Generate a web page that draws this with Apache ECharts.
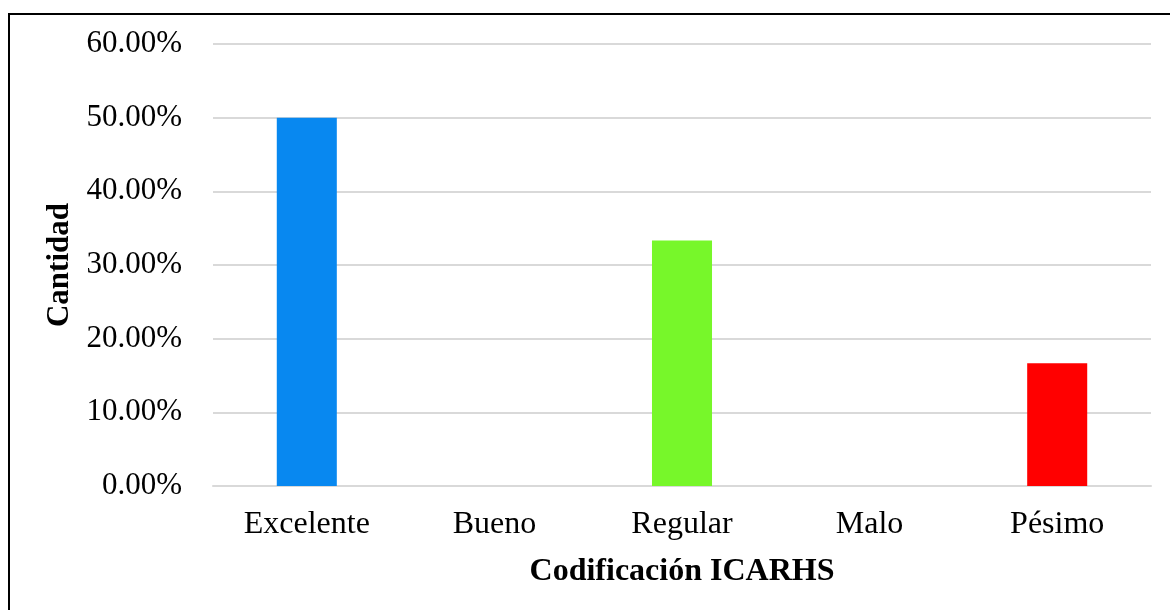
<!DOCTYPE html>
<html>
<head>
<meta charset="utf-8">
<script src="https://cdn.jsdelivr.net/npm/echarts@6/dist/echarts.min.js"></script>
<style>
  html, body { margin: 0; padding: 0; background: #fff; }
  #chart { width: 1170px; height: 610px; }
</style>
</head>
<body>
<div id="chart"></div>
<script>
// Categories and shares (%) per ICARHS code
const categories = ['Excelente', 'Bueno', 'Regular', 'Malo', 'Pésimo'];
const shares = [50.00, 0, 33.33, 0, 16.67];
const barColors = ['#0888F0', '#0888F0', '#77F72A', '#77F72A', '#FF0000'];

const yAxisName = 'Cantidad';
const xAxisName = 'Codificación ICARHS';

const serif = '"Liberation Serif", "Times New Roman", serif';

const chart = echarts.init(document.getElementById('chart'), null, { renderer: 'canvas' });

chart.setOption({
  animation: false,
  backgroundColor: '#ffffff',
  graphic: [{
    type: 'rect',
    shape: { x: 9, y: 14, width: 1200, height: 700 },
    style: { fill: 'none', stroke: '#000', lineWidth: 2 },
    silent: true
  }],
  grid: { left: 213, right: 19, top: 44, bottom: 124 },
  xAxis: {
    type: 'category',
    data: categories,
    name: xAxisName,
    nameLocation: 'middle',
    nameGap: 70,
    nameTextStyle: { fontFamily: serif, fontSize: 32, fontWeight: 'bold', color: '#000' },
    axisLine: { show: true, lineStyle: { color: '#D9D9D9', width: 2 } },
    axisTick: { show: false },
    axisLabel: { fontFamily: serif, fontSize: 32, color: '#000', margin: 23 }
  },
  yAxis: {
    type: 'value',
    min: 0,
    max: 60,
    interval: 10,
    name: yAxisName,
    nameLocation: 'middle',
    nameGap: 135,
    nameRotate: 90,
    nameTextStyle: { fontFamily: serif, fontSize: 31, fontWeight: 'bold', color: '#000' },
    axisLine: { show: false },
    axisTick: { show: false },
    axisLabel: {
      fontFamily: serif, fontSize: 31, color: '#000', margin: 31,
      padding: [4, 0, 0, 0],
      formatter: v => v.toFixed(2) + '%'
    },
    splitLine: { lineStyle: { color: '#D9D9D9', width: 2 } }
  },
  series: [{
    type: 'bar',
    data: shares.map((v, i) => ({ value: v, itemStyle: { color: barColors[i] } })),
    barWidth: '32%'
  }]
});
</script>
</body>
</html>
